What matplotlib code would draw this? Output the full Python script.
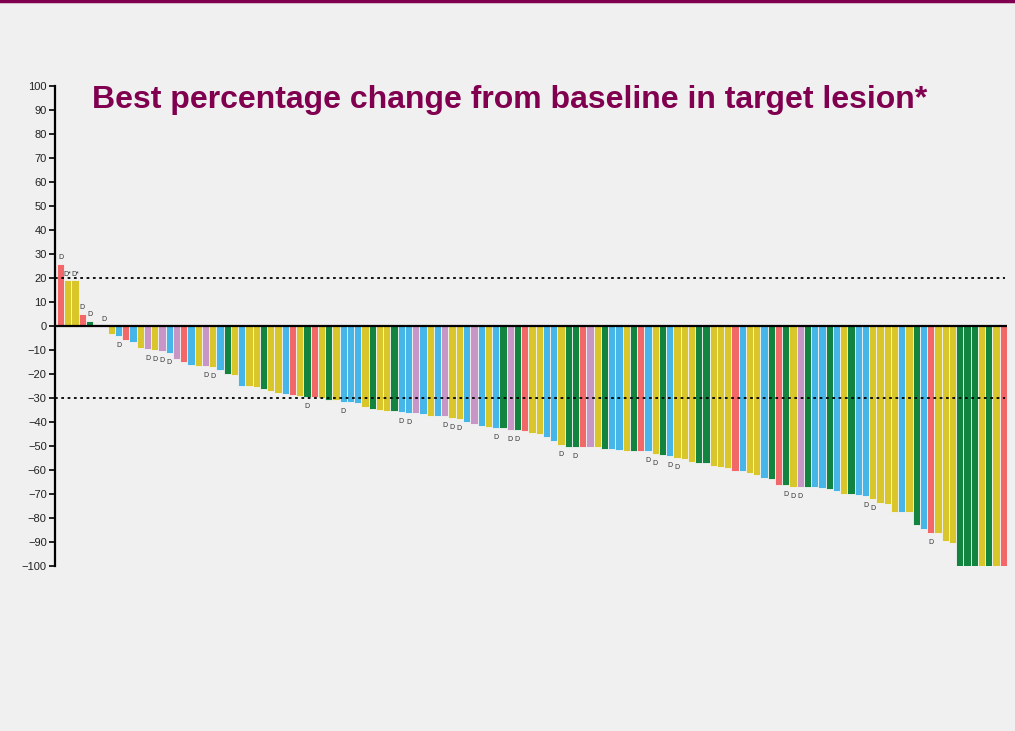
import matplotlib.pyplot as plt
import matplotlib.lines as mlines

# best % change per patient, sorted
values = [26, 19, 19, 5, 2, 0, 0, -3.2, -4.2, -5.8,
          -6.7, -9, -9.6, -10.1, -10.4, -11.4, -13.8, -14.9, -16.2, -16.5,
          -16.8, -16.9, -18.3, -20.1, -20.6, -24.9, -25.1, -25.4, -26.1, -27,
          -27.9, -28.3, -28.6, -29.3, -29.6, -29.6, -29.9, -31, -31, -31.5,
          -31.7, -32.1, -33.6, -34.4, -35, -35.3, -35.4, -35.7, -36.1, -36.2,
          -36.8, -37.5, -37.5, -37.6, -38.5, -38.8, -40.1, -41, -41.5, -42,
          -42.6, -42.6, -43.2, -43.5, -43.9, -44.6, -44.9, -46.2, -47.9, -49.6,
          -50.3, -50.3, -50.3, -50.3, -50.3, -51.1, -51.2, -51.7, -52.1, -52.1,
          -52.1, -52.2, -53.5, -53.9, -54, -55, -55.4, -56.7, -57.2, -57.2,
          -58.3, -58.8, -59.3, -60.4, -60.4, -61.1, -62.1, -63.2, -63.6, -66.1,
          -66.1, -66.9, -66.9, -66.9, -66.9, -67.4, -68.1, -68.8, -69.8, -69.8,
          -70.4, -70.8, -71.9, -73.6, -74.3, -77.5, -77.5, -77.5, -83, -84.7,
          -86.1, -86.1, -89.6, -90.5, -100, -100, -100, -100, -100, -100,
          -100]

# tumour type code per bar: R red, Y yellow, G green, B blue, P purple
groups = ("RYYRGYYYBRBYPYPBPRBYPYBGYBYYGYYBRYGRYGYBBBYGYYGBBPBYBPYYBPBYBGPGRYYBBYGGRPYGBBYGRBYGBYYYGGYYYRBYYBGRGYPGBBGBYGBBYYYYBYGBRYYYGGGYGYR")

# annotation above/below selected bars
labels = {0: 'D', 1: 'D*', 2: 'D*', 3: 'D', 4: 'D', 6: 'D', 8: 'D',
          12: 'D', 13: 'D', 14: 'D', 15: 'D', 20: 'D', 21: 'D', 34: 'D',
          39: 'D', 47: 'D', 48: 'D', 53: 'D', 54: 'D', 55: 'D', 60: 'D',
          62: 'D', 63: 'D', 69: 'D', 71: 'D', 81: 'D', 82: 'D', 84: 'D',
          85: 'D', 100: 'D', 101: 'D', 102: 'D', 111: 'D', 112: 'D', 120: 'D'}

yticks = list(range(-100, 101, 10))
title = 'Best percentage change from baseline in target lesion*'

palette = {'R': '#F26868', 'Y': '#D9C62A', 'G': '#138440',
           'B': '#46B6E8', 'P': '#C896C6'}
bg = '#F0F0F0'
maroon = '#80004F'

plt.rcParams['font.family'] = ['Liberation Sans', 'DejaVu Sans']

fig = plt.figure(figsize=(10.15, 7.31), dpi=100, facecolor=bg)
ax = fig.add_axes([55 / 1015, 165 / 731, 952 / 1015, 480 / 731])
ax.set_facecolor(bg)

x = list(range(len(values)))
colors = [palette[g] for g in groups]
ax.bar(x, values, width=1.0, color=colors, edgecolor='#F4F4F4',
       linewidth=0.6, zorder=2)

for i, txt in labels.items():
    v = values[i]
    if v >= 0:
        ax.text(i, v + 1.2, txt, ha='center', va='bottom', fontsize=5,
                color='#333333')
    else:
        ax.text(i, v - 2.5, txt, ha='center', va='top', fontsize=5,
                color='#333333')

ax.axhline(0, color='black', lw=1.6, zorder=3)
ax.axhline(20, color='black', lw=1.3, ls=(0, (1.5, 2)), xmax=0.998, zorder=3)
ax.axhline(-30, color='black', lw=1.3, ls=(0, (1.5, 2)), xmax=0.998, zorder=3)

ax.set_xlim(-0.75, len(values) - 0.5)
ax.set_ylim(-100, 100)
ax.set_xticks([])
ax.set_yticks(yticks)
ax.set_yticklabels([str(t).replace('-', '\u2212') for t in yticks],
                   fontsize=8, color='#222222')
ax.tick_params(axis='y', length=4, width=1.2, direction='out', pad=2)
for s in ['top', 'right', 'bottom']:
    ax.spines[s].set_visible(False)
ax.spines['left'].set_linewidth(1.6)

fig.text(92 / 1015, 1 - 100 / 731, title, fontsize=23, fontweight='bold',
         color=maroon, va='center', ha='left')

# thin maroon rule along the top edge
fig.add_artist(mlines.Line2D([0, 1], [0.998, 0.998], color=maroon, lw=2.5,
                             transform=fig.transFigure))

fig.savefig('out.png', dpi=100, facecolor=bg)
